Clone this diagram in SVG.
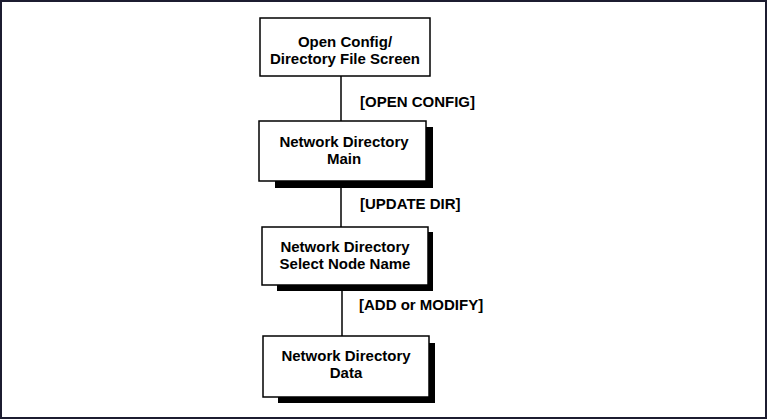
<svg xmlns="http://www.w3.org/2000/svg" width="767" height="420" viewBox="0 0 767 420">
<style>
.box{fill:#fff;stroke:#000;stroke-width:1.5}
.sh{fill:#000}
.t{font-family:"Liberation Sans",Arial,sans-serif;font-weight:bold;font-size:15px;fill:#000;text-anchor:middle}
.lb{font-family:"Liberation Sans",Arial,sans-serif;font-weight:bold;font-size:15px;fill:#000}
.c{stroke:#000;stroke-width:1.5;fill:none}
</style>
<rect x="0" y="0" width="767" height="420" fill="#fff"/>
<rect x="1" y="1" width="765" height="417" fill="none" stroke="#1c1c30" stroke-width="2"/>
<g id="connectors">
<line class="c" x1="341" y1="76" x2="341" y2="121"/>
<line class="c" x1="341" y1="181" x2="341" y2="227"/>
<line class="c" x1="342" y1="285" x2="342" y2="336"/>
<text class="lb" x="360" y="107">[OPEN CONFIG]</text>
<text class="lb" x="360" y="209">[UPDATE DIR]</text>
<text class="lb" x="359" y="310">[ADD or MODIFY]</text>
</g>
<g id="node1">
<rect class="box" x="260" y="18" width="170" height="58"/>
<text class="t" x="345" y="47">Open Config/</text>
<text class="t" x="345" y="64">Directory File Screen</text>
</g>
<g id="node2">
<rect class="sh" x="275" y="127" width="158" height="61"/>
<rect class="box" x="259" y="121" width="167" height="60"/>
<text class="t" x="344" y="147">Network Directory</text>
<text class="t" x="344" y="164">Main</text>
</g>
<g id="node3">
<rect class="sh" x="277" y="232" width="156" height="59"/>
<rect class="box" x="262" y="227" width="166" height="58"/>
<text class="t" x="345" y="252">Network Directory</text>
<text class="t" x="345" y="269">Select Node Name</text>
</g>
<g id="node4">
<rect class="sh" x="278" y="343" width="157" height="60"/>
<rect class="box" x="263" y="336" width="166" height="61"/>
<text class="t" x="346" y="361">Network Directory</text>
<text class="t" x="346" y="378">Data</text>
</g>
</svg>
